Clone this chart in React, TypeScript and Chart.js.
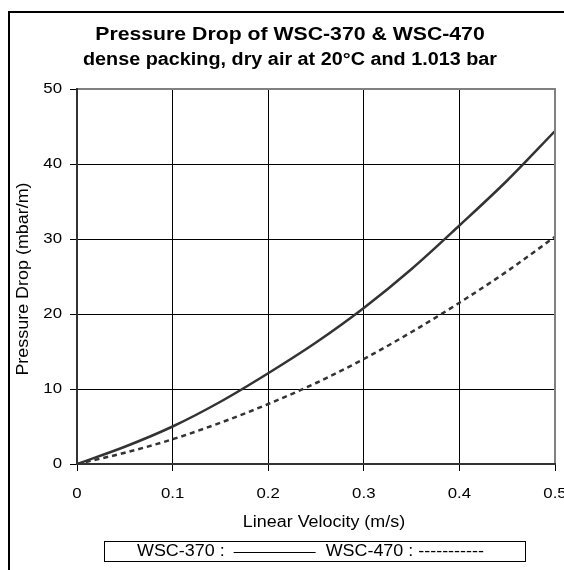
import React, { useEffect, useRef } from "react";
import { Chart, registerables } from "chart.js";

Chart.register(...registerables);

// ---- data ----
const VELOCITY = [0, 0.05, 0.1, 0.15, 0.2, 0.25, 0.3, 0.35, 0.4, 0.45, 0.5];
const WSC370 = [0, 2.3, 5.0, 8.3, 12.1, 16.2, 20.8, 26.0, 31.8, 37.8, 44.4];
const WSC470 = [0, 1.5, 3.3, 5.5, 8.0, 10.8, 14.0, 17.6, 21.5, 25.7, 30.3];
const X_TICKS = [0, 0.1, 0.2, 0.3, 0.4, 0.5];
const Y_TICKS = [0, 10, 20, 30, 40, 50];
const TITLE_LINES = ["Pressure Drop of WSC-370 & WSC-470", "dense packing, dry air at 20°C and 1.013 bar"];
const X_TITLE = "Linear Velocity (m/s)";
const Y_TITLE = "Pressure Drop (mbar/m)";
const SERIES_NAMES = ["WSC-370", "WSC-470"];

const FONT = '"Liberation Sans", Arial, sans-serif';
const SX = 1.12;

function txt(
  ctx: CanvasRenderingContext2D,
  s: string,
  x: number,
  y: number,
  font: string,
  align: CanvasTextAlign,
  baseline: CanvasTextBaseline,
  rot = 0,
  sx = SX
) {
  ctx.save();
  ctx.translate(x, y);
  if (rot) ctx.rotate(rot);
  ctx.scale(sx, 1);
  ctx.font = font;
  ctx.fillStyle = "#000";
  ctx.textAlign = align;
  ctx.textBaseline = baseline;
  ctx.fillText(s, 0, 0);
  ctx.restore();
}

function txtWidth(ctx: CanvasRenderingContext2D, s: string, font: string) {
  ctx.save();
  ctx.font = font;
  const w = ctx.measureText(s).width * SX;
  ctx.restore();
  return w;
}

const decor = {
  id: "decor",
  afterDraw(chart: any) {
    const ctx: CanvasRenderingContext2D = chart.ctx;
    const { left, right, top, bottom } = chart.chartArea;
    const xs = chart.scales.x;
    const ys = chart.scales.y;

    // plot border (top/right grey)
    ctx.save();
    ctx.strokeStyle = "#808080";
    ctx.lineWidth = 2;
    ctx.beginPath();
    ctx.moveTo(left, top);
    ctx.lineTo(right, top);
    ctx.lineTo(right, bottom);
    ctx.stroke();
    ctx.strokeStyle = "#333";
    ctx.beginPath();
    ctx.moveTo(left, top - 1);
    ctx.lineTo(left, bottom);
    ctx.lineTo(right + 1, bottom);
    ctx.stroke();
    ctx.restore();

    // titles
    const tf = `bold 18px ${FONT}`;
    txt(ctx, TITLE_LINES[0], 280, 26.5, tf, "center", "alphabetic", 0, 1.18);
    txt(ctx, TITLE_LINES[1], 280, 52, tf, "center", "alphabetic", 0, 1.1);

    const f = `16px ${FONT}`;
    const ft = `15px ${FONT}`;
    // tick labels
    X_TICKS.forEach((v) => {
      txt(ctx, String(v), xs.getPixelForValue(v), bottom + 34, ft, "center", "alphabetic");
    });
    Y_TICKS.forEach((v) => {
      txt(ctx, String(v), left - 15, ys.getPixelForValue(v), ft, "right", "middle");
    });

    // axis titles
    txt(ctx, X_TITLE, 314, bottom + 63, f, "center", "alphabetic");
    txt(ctx, Y_TITLE, 14, 266, f, "center", "middle", -Math.PI / 2);

    // legend
    const lx = 94, ly = 528, lw = 421, lh = 20;
    ctx.save();
    ctx.strokeStyle = "#000";
    ctx.lineWidth = 1;
    ctx.strokeRect(lx + 0.5, ly + 0.5, lw, lh);
    ctx.restore();
    const cy = ly + lh / 2 + 1;
    let x = 127;
    const a = SERIES_NAMES[0] + " :";
    txt(ctx, a, x, cy, f, "left", "middle");
    x += txtWidth(ctx, a, f) + 9;
    ctx.save();
    ctx.strokeStyle = "#000";
    ctx.lineWidth = 1;
    ctx.beginPath();
    ctx.moveTo(x, Math.round(cy) + 0.5);
    ctx.lineTo(x + 82, Math.round(cy) + 0.5);
    ctx.stroke();
    ctx.restore();
    x += 82 + 10;
    const b = SERIES_NAMES[1] + " :";
    txt(ctx, b, x, cy, f, "left", "middle");
    x += txtWidth(ctx, b, f) + 5;
    txt(ctx, "-----------", x, cy, f, "left", "middle");
  },
};

export default function App() {
  const ref = useRef<HTMLCanvasElement | null>(null);
  useEffect(() => {
    if (!ref.current) return;
    const chart = new Chart(ref.current, {
      type: "line",
      data: {
        datasets: [
          {
            label: SERIES_NAMES[0],
            data: VELOCITY.map((v, i) => ({ x: v, y: WSC370[i] })),
            borderColor: "#333",
            borderWidth: 2.5,
            pointRadius: 0,
            cubicInterpolationMode: "monotone",
            fill: false,
          },
          {
            label: SERIES_NAMES[1],
            data: VELOCITY.map((v, i) => ({ x: v, y: WSC470[i] })),
            borderColor: "#333",
            borderWidth: 2.5,
            borderDash: [5, 4],
            pointRadius: 0,
            cubicInterpolationMode: "monotone",
            fill: false,
          },
        ],
      },
      options: {
        animation: false,
        responsive: false,
        devicePixelRatio: 1,
        layout: { padding: { top: 76, right: 9, bottom: 96, left: 0 } },
        plugins: { legend: { display: false }, title: { display: false }, tooltip: { enabled: false } },
        scales: {
          x: {
            type: "linear",
            min: 0,
            max: 0.5,
            ticks: { display: false, stepSize: 0.1 },
            grid: { color: "#000", lineWidth: 1, tickLength: 7, drawTicks: true },
            border: { display: false },
            afterFit: (s: any) => {
              s.height = 10;
              s.paddingLeft = 0;
              s.paddingRight = 0;
            },
          },
          y: {
            min: 0,
            max: 50,
            ticks: { display: false, stepSize: 10 },
            grid: { color: "#000", lineWidth: 1, tickLength: 7, drawTicks: true },
            border: { display: false },
            afterFit: (s: any) => {
              s.width = 67;
              s.paddingTop = 0;
              s.paddingBottom = 0;
            },
          },
        },
      },
      plugins: [decor],
    } as any);
    return () => chart.destroy();
  }, []);

  return (
    <div style={{ position: "fixed", left: 0, top: 0, width: 564, height: 570, overflow: "hidden", background: "#fff" }}>
      <div
        style={{
          position: "absolute",
          left: 8,
          top: 11,
          width: 600,
          height: 600,
          border: "2px solid #000",
          boxSizing: "border-box",
        }}
      />
      <canvas ref={ref} width={554} height={557} style={{ position: "absolute", left: 10, top: 13, width: 554, height: 557 }} />
    </div>
  );
}
